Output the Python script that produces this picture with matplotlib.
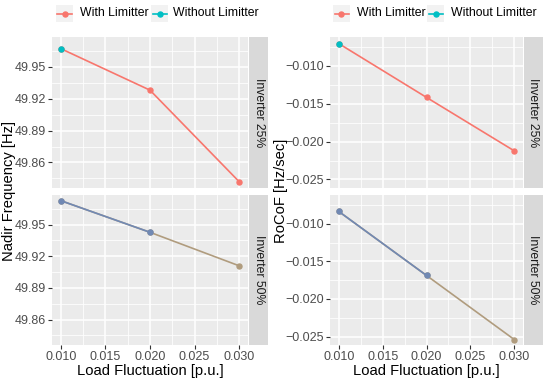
import matplotlib
matplotlib.use('Agg')
import matplotlib.pyplot as plt
from matplotlib.patches import Rectangle
from matplotlib.lines import Line2D

plt.rcParams['font.family'] = ['Liberation Sans', 'DejaVu Sans']

# ---- data ----
load = [0.010, 0.020, 0.030]
facets = ['Inverter 25%', 'Inverter 50%']
series = ['With Limitter', 'Without Limitter']
legend_colors = ['#F8766D', '#00BFC4']

nadir_with_25 = [49.967, 49.928, 49.842]
nadir_without_25 = [49.967]
nadir_with_50 = [49.9726, 49.9427, 49.911]
nadir_without_50 = [49.9726, 49.9427]

rocof_with_25 = [-0.00705, -0.01416, -0.02122]
rocof_without_25 = [-0.00705]
rocof_with_50 = [-0.00837, -0.01688, -0.0254]
rocof_without_50 = [-0.00837, -0.01688]

nadir_ticks = [49.86, 49.89, 49.92, 49.95]
rocof_ticks = [-0.025, -0.020, -0.015, -0.010]
x_ticks = [0.010, 0.015, 0.020, 0.025, 0.030]

# colours as they appear in each facet (bottom facet looks blended)
facet_colors = {
    'Inverter 25%': ['#F8766D', '#00BFC4'],
    'Inverter 50%': ['#B09C7E', '#7189B4'],
}

W, H = 550, 381
fig = plt.figure(figsize=(W / 100, H / 100), dpi=100)

BG = '#EBEBEB'
STRIP = '#D9D9D9'
TXT = '#4D4D4D'
TICK_FS = 9
TITLE_FS = 10.6
LEG_FS = 8.8
STRIP_FS = 8.8


def fx(px):
    return px / W


def fy(py):
    return 1 - py / H


def make_panel(x0, x1, y0, y1, ylim, yticks, fmt, show_x, strip_label):
    ax = fig.add_axes([fx(x0), fy(y1), fx(x1 - x0), (y1 - y0) / H])
    ax.set_facecolor(BG)
    for s in ax.spines.values():
        s.set_visible(False)
    ax.set_xlim(0.009, 0.031)
    ax.set_ylim(*ylim)
    ax.set_xticks(x_ticks)
    minors_x = [(a + b) / 2 for a, b in zip(x_ticks[:-1], x_ticks[1:])]
    ax.set_xticks(minors_x, minor=True)
    ax.set_yticks(yticks)
    step = yticks[1] - yticks[0]
    minors_y = [t + step / 2 for t in yticks] + [yticks[0] - step / 2]
    minors_y = [m for m in minors_y if ylim[0] <= m <= ylim[1]]
    ax.set_yticks(minors_y, minor=True)
    ax.set_yticklabels([fmt.format(t).replace('-', '\u2212') for t in yticks])
    ax.grid(True, which='major', color='white', linewidth=1.1)
    ax.grid(True, which='minor', color='white', linewidth=0.55)
    ax.set_axisbelow(True)
    ax.tick_params(axis='y', which='major', length=3, width=0.8, color='#333333',
                   labelsize=TICK_FS, labelcolor=TXT, pad=1.5)
    ax.tick_params(which='minor', length=0)
    if show_x:
        ax.set_xticklabels(['{:.3f}'.format(t) for t in x_ticks])
        ax.tick_params(axis='x', which='major', length=3, width=0.8, color='#333333',
                       labelsize=TICK_FS, labelcolor=TXT, pad=1.5)
    else:
        ax.tick_params(axis='x', which='major', length=0, labelbottom=False)
    # strip
    sax = fig.add_axes([fx(x1 + 1), fy(y1), fx(19), (y1 - y0) / H])
    sax.set_facecolor(STRIP)
    for s in sax.spines.values():
        s.set_visible(False)
    sax.set_xticks([])
    sax.set_yticks([])
    sax.text(0.5, 0.5, strip_label, rotation=-90, ha='center', va='center',
             fontsize=STRIP_FS, color='#1A1A1A', transform=sax.transAxes)
    return ax


def draw(ax, facet, with_vals, without_vals):
    cw, cwo = facet_colors[facet]
    ax.plot(load[:len(with_vals)], with_vals, color=cw, lw=1.2, marker='o',
            markersize=3.6, zorder=3)
    ax.plot(load[:len(without_vals)], without_vals, color=cwo, lw=1.2, marker='o',
            markersize=3.6, zorder=4)


def legend(x_keys, x_texts):
    for i, name in enumerate(series):
        kx = x_keys[i]
        fig.patches.append(Rectangle((fx(kx), fy(22)), fx(17), 17 / H,
                                     transform=fig.transFigure, facecolor='#F2F2F2',
                                     edgecolor='none'))
        fig.lines.append(Line2D([fx(kx + 1.5), fx(kx + 15.5)], [fy(13.5), fy(13.5)],
                                transform=fig.transFigure, color=legend_colors[i],
                                lw=1.2))
        fig.lines.append(Line2D([fx(kx + 8.5)], [fy(13.5)], transform=fig.transFigure,
                                color=legend_colors[i], marker='o', markersize=3.6,
                                linestyle='none'))
        fig.text(fx(x_texts[i]), fy(13.5), name, ha='left', va='center',
                 fontsize=LEG_FS, color='black')


# ---- left plot: Nadir ----
nad_lim = (49.836, 49.978)
axL1 = make_panel(52, 248, 37, 188, nad_lim, nadir_ticks, '{:.2f}', False, facets[0])
axL2 = make_panel(52, 248, 195, 345, nad_lim, nadir_ticks, '{:.2f}', True, facets[1])
draw(axL1, facets[0], nadir_with_25, nadir_without_25)
draw(axL2, facets[1], nadir_with_50, nadir_without_50)
fig.text(fx(150), fy(371), 'Load Fluctuation [p.u.]', ha='center', va='center',
         fontsize=TITLE_FS)
fig.text(fx(9), fy(191), 'Nadir Frequency [Hz]', ha='center', va='center',
         rotation=90, fontsize=TITLE_FS)
legend([56, 151], [80, 173])

# ---- right plot: RoCoF ----
roc_lim = (-0.02613, -0.00618)
axR1 = make_panel(330, 523, 37, 188, roc_lim, rocof_ticks, '{:.3f}', False, facets[0])
axR2 = make_panel(330, 523, 195, 345, roc_lim, rocof_ticks, '{:.3f}', True, facets[1])
draw(axR1, facets[0], rocof_with_25, rocof_without_25)
draw(axR2, facets[1], rocof_with_50, rocof_without_50)
fig.text(fx(426), fy(371), 'Load Fluctuation [p.u.]', ha='center', va='center',
         fontsize=TITLE_FS)
fig.text(fx(281.5), fy(191), 'RoCoF [Hz/sec]', ha='center', va='center',
         rotation=90, fontsize=TITLE_FS)
legend([333, 427], [357, 451])

fig.savefig('out.png', dpi=100)
